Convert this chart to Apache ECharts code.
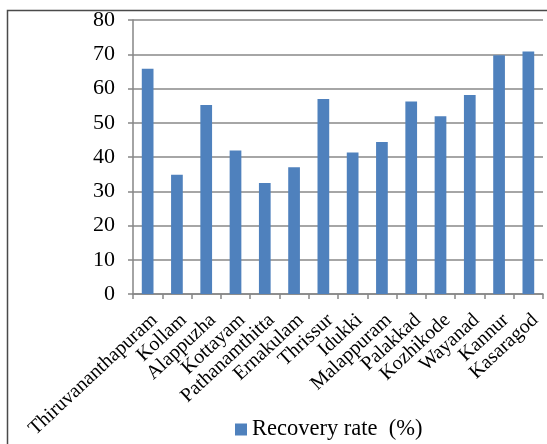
<!DOCTYPE html>
<html>
<head>
<meta charset="utf-8">
<script src="https://cdn.jsdelivr.net/npm/echarts@6/dist/echarts.min.js"></script>
<style>
html,body{margin:0;padding:0;background:#fff;}
#c{width:547px;height:444px;}
</style>
</head>
<body>
<div id="c"></div>
<script>
const districts = ["Thiruvananthapuram","Kollam","Alappuzha","Kottayam","Pathanamthitta","Ernakulam","Thrissur","Idukki","Malappuram","Palakkad","Kozhikode","Wayanad","Kannur","Kasaragod"];
const recoveryRate = [65.8, 34.8, 55.2, 41.9, 32.4, 37.0, 56.9, 41.3, 44.4, 56.2, 51.9, 58.1, 69.7, 70.8];
const seriesName = "Recovery rate  (%)";
const yTicks = {min: 0, max: 80, interval: 10};

const chart = echarts.init(document.getElementById('c'), null, {renderer: 'canvas'});
const font = 'Liberation Serif';
chart.setOption({
  animation: false,
  backgroundColor: '#ffffff',
  textStyle: {fontFamily: font},
  graphic: [{
    type: 'rect',
    shape: {x: 7.5, y: 10.5, width: 600, height: 500},
    style: {fill: 'none', stroke: '#4a4a4a', lineWidth: 1.5},
    silent: true
  }],
  grid: {left: 133, right: 4, top: 20, bottom: 150, containLabel: false},
  legend: {
    data: [seriesName],
    left: 230,
    top: 413,
    icon: 'rect',
    itemWidth: 12,
    itemHeight: 12,
    itemGap: 10,
    textStyle: {fontFamily: font, fontSize: 22.5, color: '#000'}
  },
  xAxis: {
    type: 'category',
    data: districts,
    axisLine: {lineStyle: {color: '#868686', width: 1.5}},
    axisTick: {show: true, length: 5, lineStyle: {color: '#868686', width: 1.5}},
    axisLabel: {rotate: 43, interval: 0, margin: 16, verticalAlign: 'top', align: 'right', fontFamily: font, fontSize: 20, color: '#000'}
  },
  yAxis: {
    type: 'value',
    min: yTicks.min, max: yTicks.max, interval: yTicks.interval,
    axisLine: {show: true, lineStyle: {color: '#868686', width: 1.5}},
    axisTick: {show: true, length: 5, lineStyle: {color: '#868686', width: 1.5}},
    splitLine: {lineStyle: {color: '#888888', width: 1.5}},
    axisLabel: {margin: 18, fontFamily: font, fontSize: 22, color: '#000'}
  },
  series: [{
    name: seriesName,
    type: 'bar',
    data: recoveryRate,
    barWidth: '40%',
    itemStyle: {color: '#4F81BD'}
  }]
});
</script>
</body>
</html>
